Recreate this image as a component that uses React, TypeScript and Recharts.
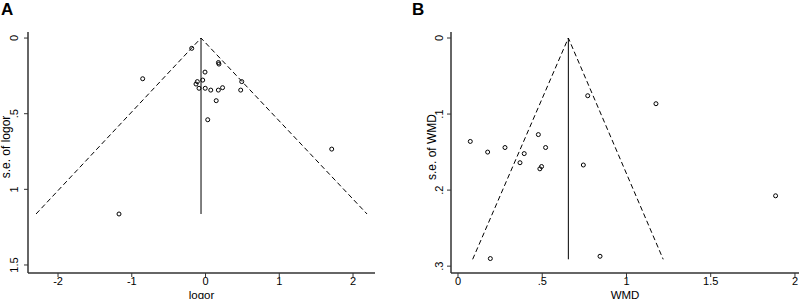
import { ScatterChart, Scatter, XAxis, YAxis } from 'recharts'

// Panel A: log odds ratio vs its standard error
const logorValues = [-0.187, -0.852, 0.175, 0.182, -0.007, -0.038, -0.111, -0.129, -0.088, -0.004, 0.071, 0.174, 0.231, 0.491, 0.477, 0.145, 0.03, 1.711, -1.173]
const logorSe = [0.068, 0.269, 0.162, 0.172, 0.225, 0.278, 0.288, 0.304, 0.332, 0.332, 0.344, 0.344, 0.328, 0.288, 0.344, 0.414, 0.54, 0.734, 1.163]
const funnelAX = [-2.298, -0.061, 2.19]
const funnelASe = [1.163, 0, 1.163]
const pooledA = -0.061
const seMaxA = 1.163
const ticksAX = [-2, -1, 0, 1, 2]
const ticksAY = [0, 0.5, 1, 1.5]

// Panel B: weighted mean difference vs its standard error
const wmdValues = [0.77, 1.175, 0.073, 0.477, 0.279, 0.52, 0.176, 0.393, 0.368, 0.486, 0.496, 0.744, 1.885, 0.192, 0.843]
const wmdSe = [0.0759, 0.0864, 0.136, 0.127, 0.144, 0.144, 0.15, 0.152, 0.164, 0.172, 0.169, 0.167, 0.2075, 0.29, 0.287]
const funnelBX = [0.087, 0.655, 1.218]
const funnelBSe = [0.291, 0, 0.291]
const pooledB = 0.655
const seMaxB = 0.291
const ticksBX = [0, 0.5, 1, 1.5, 2]
const ticksBY = [0, 0.1, 0.2, 0.3]

const zip = (xs: number[], ys: number[]) => xs.map((x, i) => ({ x, y: ys[i] }))

// stata style: ".5" instead of "0.5"
const fmt = (v: number) => (v > 0 && v < 1 ? String(v).replace(/^0/, '') : String(v))

const FONT = '"Liberation Sans", Arial, sans-serif'
const AXIS = '#333'

function Hollow(props: any) {
  if (props.cx == null) return <g />
  return <circle cx={props.cx} cy={props.cy} r={2} fill="none" stroke="#000" strokeWidth={1} />
}

function NoDot() {
  return <g />
}

function RotTick(props: any) {
  const { x, y, payload } = props
  return (
    <text x={x} y={y} transform={`rotate(-90 ${x} ${y})`} textAnchor="middle" fontSize={11} fill="#000" fontFamily={FONT}>
      {fmt(payload.value)}
    </text>
  )
}

function yTitle(text: string, x: number, y: number) {
  return () => (
    <text x={x} y={y} transform={`rotate(-90 ${x} ${y})`} textAnchor="middle" fontSize={12} fill="#000" fontFamily={FONT}>
      {text}
    </text>
  )
}

interface PanelProps {
  points: { x: number; y: number }[]
  funnel: { x: number; y: number }[]
  pooled: number
  seMax: number
  xDomain: [number, number]
  yDomain: [number, number]
  xTicks: number[]
  yTicks: number[]
  yAxisWidth: number
  right: number
  tickMargin: number
  xTitle: string
  yLabel: string
  yTitleX: number
}

function Funnel(p: PanelProps) {
  const mid = [{ x: p.pooled, y: 0 }, { x: p.pooled, y: p.seMax }]
  return (
    <ScatterChart width={400} height={299} margin={{ top: 32, right: p.right, bottom: 0, left: 0 }}>
      <XAxis
        type="number"
        dataKey="x"
        domain={p.xDomain}
        ticks={p.xTicks}
        allowDataOverflow
        tickFormatter={fmt}
        height={26}
        tickSize={4}
        tickMargin={0}
        tick={{ fontSize: 11, fill: '#000', fontFamily: FONT }}
        axisLine={{ stroke: AXIS, strokeWidth: 1.5 }}
        tickLine={{ stroke: AXIS }}
        label={{ value: p.xTitle, position: 'insideBottom', offset: 0.5, fontSize: 11.5, fill: '#000', fontFamily: FONT }}
      />
      <YAxis
        type="number"
        dataKey="y"
        reversed
        domain={p.yDomain}
        ticks={p.yTicks}
        allowDataOverflow
        width={p.yAxisWidth}
        tickSize={4}
        tickMargin={p.tickMargin}
        tick={RotTick}
        axisLine={{ stroke: AXIS, strokeWidth: 1.5 }}
        tickLine={{ stroke: AXIS }}
        label={{ content: yTitle(p.yLabel, p.yTitleX, 147) }}
      />
      <Scatter data={p.funnel} line={{ stroke: '#000', strokeWidth: 1, strokeDasharray: '5 3' }} shape={NoDot} isAnimationActive={false} />
      <Scatter data={mid} line={{ stroke: '#000', strokeWidth: 1 }} shape={NoDot} isAnimationActive={false} />
      <Scatter data={p.points} shape={Hollow} isAnimationActive={false} />
    </ScatterChart>
  )
}

export default function App() {
  return (
    <div style={{ position: 'absolute', left: 0, top: 0, width: 800, height: 299, background: '#fff', fontFamily: FONT }}>
      <div style={{ position: 'absolute', left: 0, top: 0 }}>
        <Funnel
          points={zip(logorValues, logorSe)}
          funnel={zip(funnelAX, funnelASe)}
          pooled={pooledA}
          seMax={seMaxA}
          xDomain={[-2.407, 2.298]}
          yDomain={[-0.04, 1.553]}
          xTicks={ticksAX}
          yTicks={ticksAY}
          yAxisWidth={28}
          right={25}
          tickMargin={6}
          xTitle="logor"
          yLabel="s.e. of logor"
          yTitleX={10}
        />
      </div>
      <div style={{ position: 'absolute', left: 400, top: 0 }}>
        <Funnel
          points={zip(wmdValues, wmdSe)}
          funnel={zip(funnelBX, funnelBSe)}
          pooled={pooledB}
          seMax={seMaxB}
          xDomain={[-0.0415, 2.024]}
          yDomain={[-0.0079, 0.309]}
          xTicks={ticksBX}
          yTicks={ticksBY}
          yAxisWidth={51}
          right={1}
          tickMargin={4}
          xTitle="WMD"
          yLabel="s.e. of WMD"
          yTitleX={36}
        />
      </div>
      <div style={{ position: 'absolute', left: 1, top: 0, fontSize: 17, fontWeight: 'bold', lineHeight: '19px' }}>A</div>
      <div style={{ position: 'absolute', left: 412, top: 0, fontSize: 17, fontWeight: 'bold', lineHeight: '19px' }}>B</div>
    </div>
  )
}
